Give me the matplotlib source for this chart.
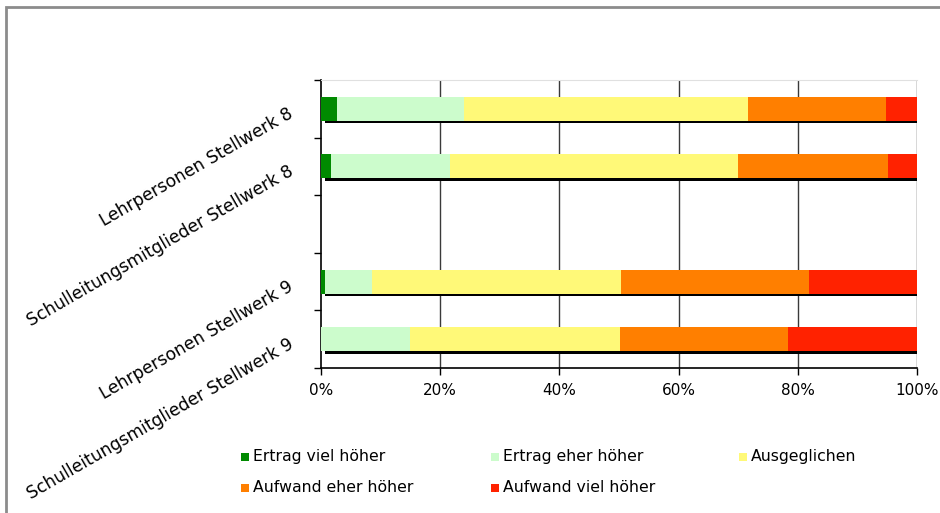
import matplotlib
matplotlib.use("Agg")
import matplotlib.pyplot as plt
from matplotlib.patches import Rectangle
from matplotlib.ticker import FuncFormatter

# data (percent of respondents)
groups = ["Lehrpersonen Stellwerk 8",
          "Schulleitungsmitglieder Stellwerk 8",
          "Lehrpersonen Stellwerk 9",
          "Schulleitungsmitglieder Stellwerk 9"]
slots = [0.5, 1.5, 3.5, 4.5]   # slot 2.5 stays empty

series = ["Ertrag viel höher", "Ertrag eher höher", "Ausgeglichen",
          "Aufwand eher höher", "Aufwand viel höher"]
ertrag_viel = [2.7, 1.6, 0.7, 0.0]
ertrag_eher = [21.3, 20.0, 7.8, 14.9]
ausgeglichen = [47.7, 48.4, 41.9, 35.2]
aufwand_eher = [23.1, 25.1, 31.5, 28.2]
aufwand_viel = [5.2, 4.9, 18.1, 21.7]
values = [ertrag_viel, ertrag_eher, ausgeglichen, aufwand_eher, aufwand_viel]
colors = ["#008a00", "#ccfccc", "#fff978", "#ff7f00", "#ff2200"]

plt.rcParams['font.family'] = ['DejaVu Sans']

fig = plt.figure(figsize=(9.4, 5.13), dpi=100)
W, H = 940, 513

# grey outer frame (runs off the right/bottom edge)
fig.patches.append(Rectangle((6 / W, -0.1), 1.2, 1 - 7 / H + 0.1,
                             transform=fig.transFigure, fill=False,
                             edgecolor="#8c8c8c", linewidth=2))

ax = fig.add_axes([321 / W, 1 - 368 / H, (917 - 321) / W, (368 - 80) / H])

bar_h = 0.42
# dark drop shadow under the bars
left = [0] * len(groups)
totals = [sum(v[i] for v in values) for i in range(len(groups))]
ax.barh([s + 0.04 for s in slots], totals, left=0.6, height=bar_h,
        color="black", zorder=2)
for vals, col, name in zip(values, colors, series):
    ax.barh(slots, vals, left=left, height=bar_h, color=col,
            edgecolor="none", zorder=3, label=name)
    left = [l + v for l, v in zip(left, vals)]

ax.set_xlim(0, 100)
ax.set_ylim(5, 0)
ax.set_xticks(range(0, 101, 20))
ax.xaxis.set_major_formatter(FuncFormatter(lambda x, p: "%d%%" % x))
ax.tick_params(axis="x", length=5, width=1, direction="out", pad=6,
               labelsize=11, color="black")
for x in range(20, 101, 20):
    ax.axvline(x, color="#3a3a3a", linewidth=1, zorder=1)

ax.set_yticks(range(0, 6))
ax.set_yticklabels([])
ax.tick_params(axis="y", which="major", length=5, width=1, direction="out")
ax.set_yticks([s + 0.06 for s in slots], minor=True)
ax.set_yticklabels(groups, minor=True, rotation=30, ha="right", va="center",
                   rotation_mode="anchor", fontsize=12.3)
ax.tick_params(axis="y", which="minor", length=0, pad=21)

for side in ["left", "bottom"]:
    ax.spines[side].set_color("black")
    ax.spines[side].set_linewidth(1.2)
ax.spines["top"].set_color("#e0e0e0")
ax.spines["right"].set_visible(False)

# legend, laid out row-wise in three columns
col_x = [245, 495, 743]
row_y = [457, 488]
for i, (name, col) in enumerate(zip(series, colors)):
    cx = col_x[i % 3]
    cy = row_y[i // 3]
    fig.patches.append(Rectangle(((cx - 4) / W, 1 - (cy + 4) / H), 8 / W, 8 / H,
                                 transform=fig.transFigure, facecolor=col,
                                 edgecolor="none"))
    fig.text((cx + 8) / W, 1 - cy / H, name, ha="left", va="center",
             fontsize=11.3)

fig.savefig("out.png", dpi=100)
